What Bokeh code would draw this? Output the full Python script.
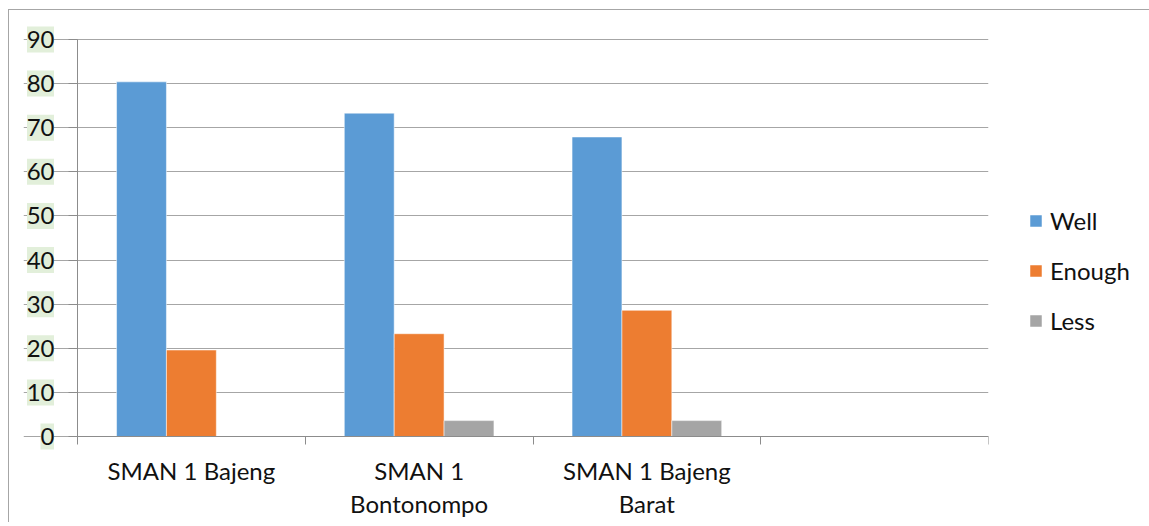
from bokeh.plotting import figure
from bokeh.models import ColumnDataSource, Range1d, FixedTicker, Legend, LegendItem, LabelSet
from bokeh.core.properties import value
from bokeh.embed import file_html
from bokeh.resources import INLINE

schools = ["SMAN 1 Bajeng", "SMAN 1\nBontonompo", "SMAN 1 Bajeng\nBarat", ""]
series = ["Well", "Enough", "Less"]
well = [80.4, 73.3, 67.9]
enough = [19.6, 23.3, 28.6]
less = [0.0, 3.6, 3.6]
y_ticks = [0, 10, 20, 30, 40, 50, 60, 70, 80, 90]

colors = ["#5b9bd5", "#ed7d31", "#a5a5a5"]
FONT = "Lato"
TXT = "#111111"
FS = "24px"
HILITE = "#e2efda"

PLOT_W = 911          # width of the category area in pixels
PLOT_H = 397          # height of the 0..90 area in pixels
LPAD = 54             # room inside the frame for the y tick labels
TPAD = 16             # room above 90 so its label is not cut
BPAD = 86             # room below 0 for the category labels
ncat = len(schools)
ymax = y_ticks[-1]
ppu_x = PLOT_W / ncat
ppu_y = PLOT_H / ymax

p = figure(frame_width=PLOT_W + LPAD, frame_height=PLOT_H + TPAD + BPAD,
           x_range=Range1d(-LPAD / ppu_x, ncat),
           y_range=Range1d(-BPAD / ppu_y, ymax + TPAD / ppu_y),
           output_backend="svg", toolbar_location=None,
           min_border_left=14, min_border_right=20, min_border_top=29 - TPAD,
           min_border_bottom=0)
p.outline_line_color = None
p.background_fill_color = "white"
p.border_fill_color = "white"
p.margin = (9, 0, 0, 8)
p.styles = {"border-left": "1px solid #a6a6a6", "border-top": "1px solid #a6a6a6"}

# highlight boxes behind the y tick labels
lab_w = [13.5 * len(str(v)) for v in y_ticks]
hx = [-(23.5 + w / 2) / ppu_x for w in lab_w]
p.rect(x=hx, y=y_ticks, width=lab_w, height=26, width_units="screen",
       height_units="screen", fill_color=HILITE, line_color=None)

bw = 0.219
renderers = []
for s, (name, vals) in enumerate(zip(series, [well, enough, less])):
    xs = [i + 0.5 + (s - 1) * bw for i in range(len(vals))]
    src = ColumnDataSource(dict(x=xs, top=vals))
    r = p.vbar(x="x", top="top", width=bw, source=src, fill_color=colors[s],
               line_color="white", line_alpha=0.5, line_width=1)
    renderers.append((name, r))

# grid
p.xgrid.grid_line_color = None
p.ygrid.grid_line_color = "#a6a6a6"
p.ygrid.grid_line_width = 1
p.ygrid.ticker = FixedTicker(ticks=y_ticks)
p.ygrid.bounds = (0, ncat)

# y axis drawn at x = 0
yax = p.yaxis[0]
yax.fixed_location = 0
yax.bounds = (0, ymax)
yax.ticker = FixedTicker(ticks=y_ticks)
yax.axis_line_color = "#8c8c8c"
yax.major_tick_line_color = "#8c8c8c"
yax.major_tick_out = 9
yax.major_tick_in = 0
yax.minor_tick_line_color = None
yax.major_label_text_font = FONT
yax.major_label_text_font_size = FS
yax.major_label_text_color = TXT
yax.major_label_standoff = 14

# x axis drawn at y = 0, category labels as text below it
xax = p.xaxis[0]
centers = [i + 0.5 for i in range(ncat)]
bounds = [i for i in range(ncat + 1)]
xax.fixed_location = 0
xax.bounds = (0, ncat)
xax.ticker = FixedTicker(ticks=centers, minor_ticks=bounds)
xax.major_label_overrides = {c: "" for c in centers}
xax.axis_line_color = "#8c8c8c"
xax.major_tick_line_color = None
xax.major_tick_out = 0
xax.major_tick_in = 0
xax.minor_tick_line_color = "#8c8c8c"
xax.minor_tick_out = 8
xax.minor_tick_in = 0
xax.major_label_standoff = 0
xax.major_label_text_font_size = "1px"

lx, ly, lt = [], [], []
for c, s in zip(centers, schools):
    for k, line in enumerate(s.split("\n")):
        if line:
            lx.append(c)
            ly.append(-(34 + 33 * k) / ppu_y)
            lt.append(line)
p.add_layout(LabelSet(x="x", y="y", text="t",
                      source=ColumnDataSource(dict(x=lx, y=ly, t=lt)),
                      text_align="center", text_baseline="middle",
                      text_font=value(FONT), text_font_size=value(FS), text_color=TXT))

legend = Legend(items=[LegendItem(label=n, renderers=[r]) for n, r in renderers],
                location=(40, 101 + BPAD), orientation="vertical",
                glyph_width=15, glyph_height=15, label_standoff=7,
                label_text_font=FONT, label_text_font_size=FS, label_text_color=TXT,
                label_height=20, spacing=21, padding=0, margin=0,
                border_line_color=None, background_fill_alpha=0)
p.add_layout(legend, "right")

open("out.html", "w").write(file_html(p, INLINE))
